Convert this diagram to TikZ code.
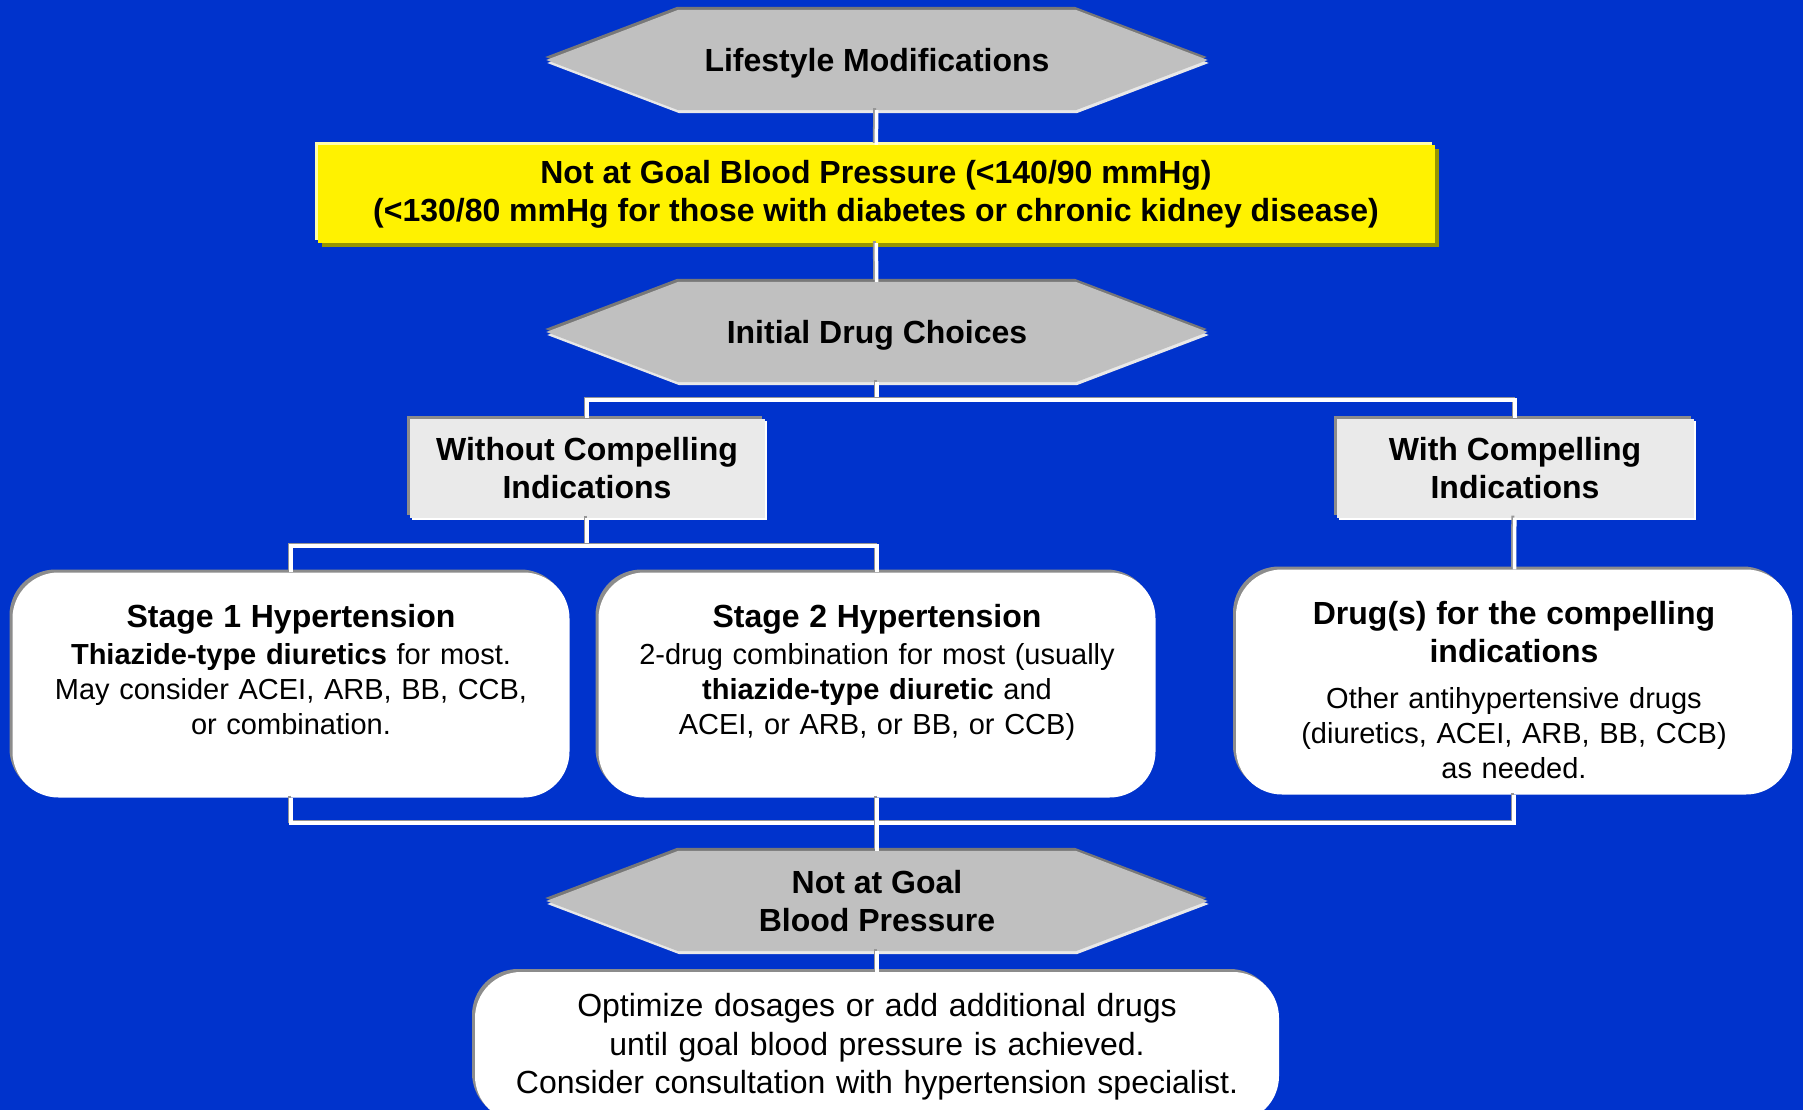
\documentclass[tikz,border=0pt]{standalone}
\usepackage{fontspec}
\setmainfont{Liberation Sans}
\usetikzlibrary{backgrounds,shadows}

\definecolor{bgblue}{RGB}{0,51,204}
\definecolor{hexgray}{RGB}{192,192,192}
\definecolor{hexdark}{RGB}{120,120,120}
\definecolor{hexlight}{RGB}{232,232,232}
\definecolor{ydark}{RGB}{150,150,0}
\definecolor{ylight}{RGB}{255,255,170}
\definecolor{boxgray}{RGB}{234,234,234}
\definecolor{edgegray}{RGB}{140,140,140}
\definecolor{linkgray}{RGB}{150,150,150}

\newcommand{\headtxt}{\fontsize{32}{38}\selectfont\bfseries}
\newcommand{\plaintxt}{\fontsize{32}{38.5}\selectfont}
\newcommand{\bodytxt}{\fontsize{29}{35}\selectfont}

\begin{document}
\begin{tikzpicture}[x = 1pt, y = -1pt,
    hexa/.style = {minimum width = 397, minimum height = 100, inner sep = 0, align = center, font = \headtxt},
    hexfill/.style = {fill = hexgray,
                      general shadow = {shadow xshift = -1pt, shadow yshift = 3pt, fill = hexdark},
                      general shadow = {shadow xshift = 1pt, shadow yshift = -3pt, fill = hexlight}},
    goalbox/.style = {fill = yellow, minimum width = 1117, minimum height = 98, align = center, font = \headtxt,
                      general shadow = {shadow xshift = -3pt, shadow yshift = 3pt, fill = ylight},
                      general shadow = {shadow xshift = 4pt, shadow yshift = -4pt, fill = ydark}},
    casebox/.style = {fill = boxgray, minimum width = 355, minimum height = 99, align = center, font = \headtxt,
                      general shadow = {shadow xshift = -3pt, shadow yshift = 3pt, fill = edgegray},
                      general shadow = {shadow xshift = 2pt, shadow yshift = -2pt, fill = white}},
    drugbox/.style = {fill = white, rounded corners = 46, minimum width = 557, minimum height = 225,
                      inner sep = 0, text width = 530, align = center, font = \bodytxt,
                      general shadow = {shadow xshift = -3pt, shadow yshift = 3pt, fill = edgegray}},
    link/.style = {draw = white, line width = 3.5pt,
                   preaction = {draw = linkgray, line width = 3pt, transform canvas = {shift = {(-2pt,2pt)}}}}]
    \useasboundingbox (0,0) rectangle (1803,1110);

    \node [hexa, text depth = 0] (life) at (877,60) {Lifestyle Modifications};
    \node [goalbox] (bp) at (876,194) {Not at Goal Blood Pressure (<140/90 mmHg)\\(<130/80 mmHg for those with diabetes or chronic kidney disease)};
    \node [hexa, text depth = 0] (init) at (877,332) {Initial Drug Choices};
    \node [casebox] (without) at (587,468) {Without Compelling\\Indications};
    \node [casebox, minimum width = 357] (with) at (1515,468) {With Compelling\\Indications};
    \node [drugbox, text depth = 139] (stage1) at (291,685) {{\headtxt Stage 1 Hypertension}\\[2pt]
        \textbf{Thiazide-type diuretics} for most.\\May consider ACEI, ARB, BB, CCB,\\or combination.};
    \node [drugbox, text depth = 139] (stage2) at (877,685) {{\headtxt Stage 2 Hypertension}\\[2pt]
        2-drug combination for most (usually\\\textbf{thiazide-type diuretic} and\\ACEI, or ARB, or BB, or CCB)};
    \node [drugbox, minimum width = 556, text depth = 138] (drugs) at (1514,682) {{\headtxt Drug(s) for the compelling\\[3pt]indications}\\[11pt]
        Other antihypertensive drugs\\(diuretics, ACEI, ARB, BB, CCB)\\as needed.};
    \node [hexa] (goal) at (877,901) {Not at Goal\\Blood Pressure};
    \node [drugbox, minimum width = 804, minimum height = 150, text width = 780, font = \plaintxt] (opt) at (877,1047)
        {Optimize dosages or add additional drugs\\until goal blood pressure is achieved.\\Consider consultation with hypertension specialist.};

    \begin{scope}[on background layer]
    \fill [bgblue] (0,0) rectangle (1803,1110);
    \foreach \n in {life, init, goal}
        \fill [hexfill] (\n.north west) -- (\n.north east) -- ([xshift=132pt]\n.east) -- (\n.south east)
            -- (\n.south west) -- ([xshift=-132pt]\n.west) -- cycle;
    \end{scope}

    \coordinate (j1) at (877,400);
    \coordinate (j2) at (587,546);
    \coordinate (j3) at (877,823);
    \draw [link] (life) -- (bp);
    \draw [link] (bp) -- (init);
    \draw [link] (init) -- (j1);
    \draw [link] (without) |- (j1) -| (with);
    \draw [link] (without) -- (j2);
    \draw [link] (stage1) |- (j2) -| (stage2);
    \draw [link] (with) -- (drugs);
    \draw [link] (stage1) |- (j3) -| (drugs);
    \draw [link] (stage2) -- (goal);
    \draw [link] (goal) -- (opt);
\end{tikzpicture}
\end{document}
